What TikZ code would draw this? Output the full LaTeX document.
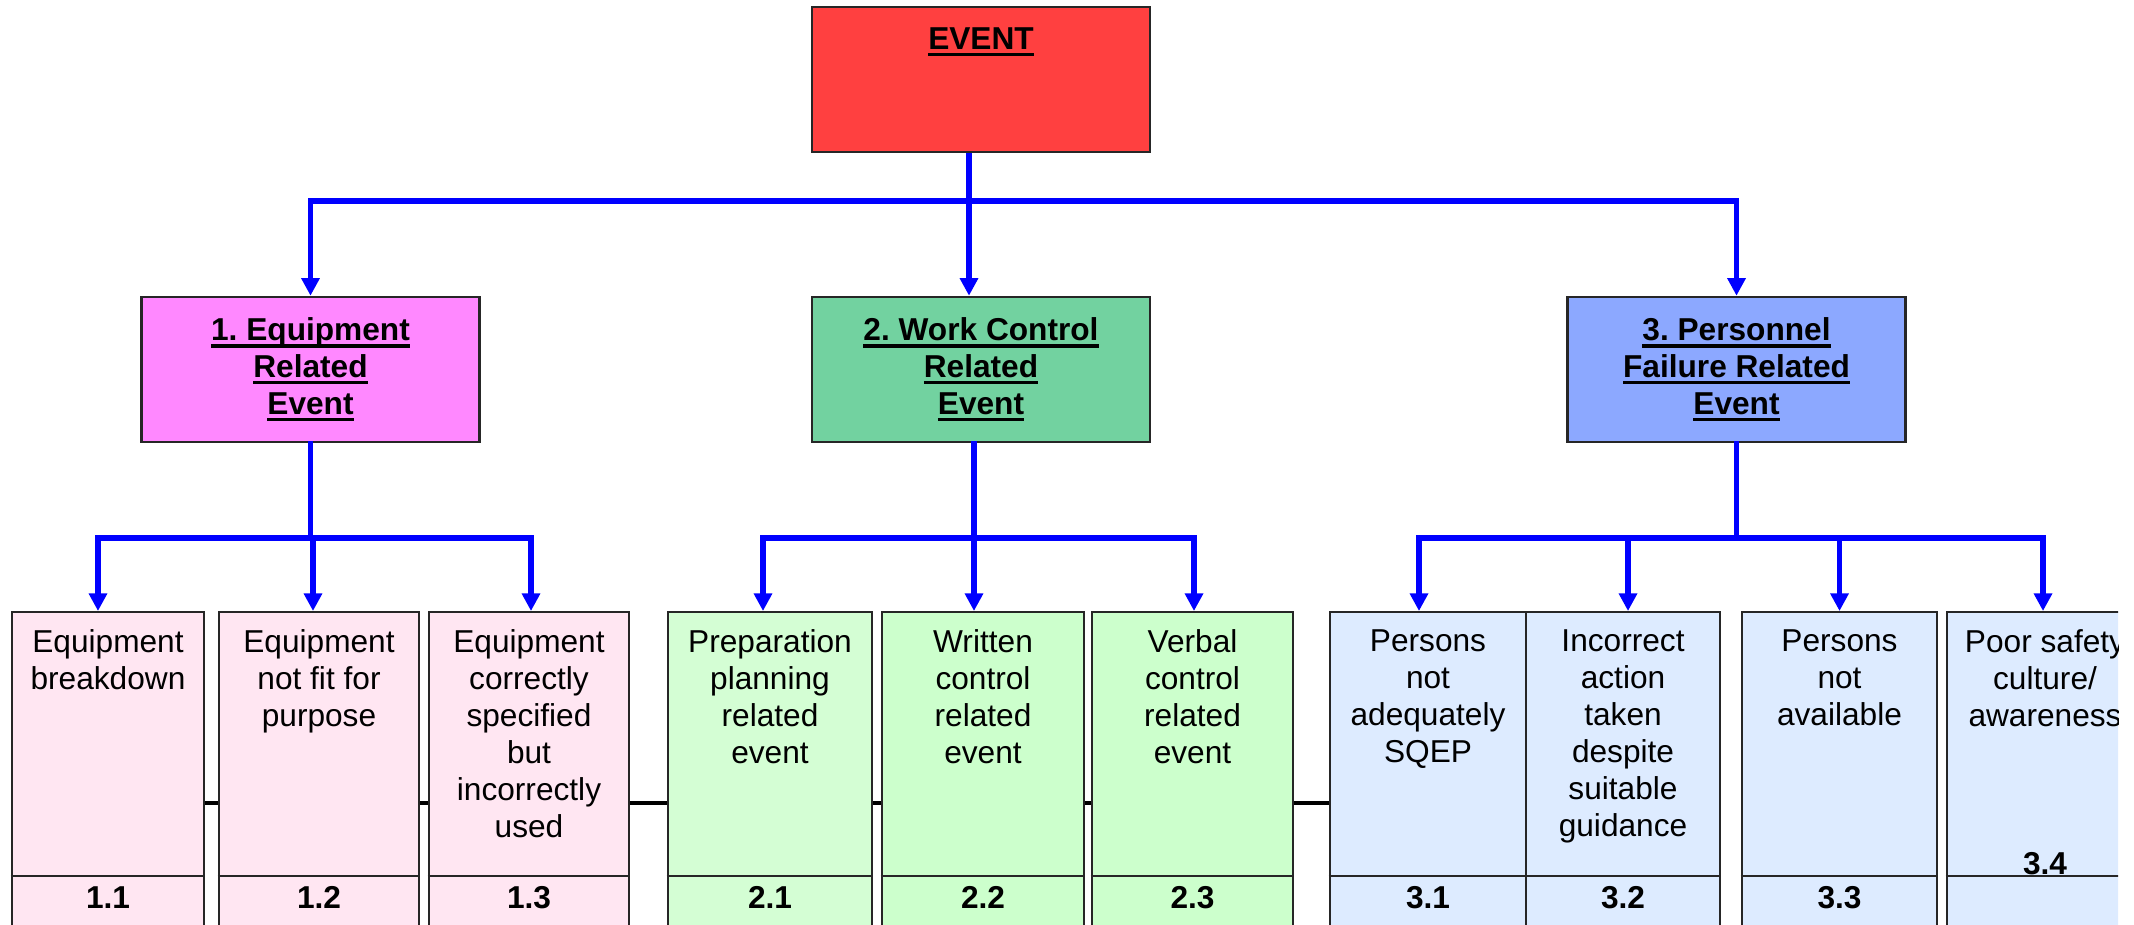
\documentclass[tikz,border=0pt]{standalone}
\usepackage{fontspec}
\setmainfont{Liberation Sans}
\usetikzlibrary{arrows.meta,backgrounds}
\frenchspacing

\definecolor{evred}{RGB}{255,64,64}
\definecolor{eqmag}{RGB}{255,136,255}
\definecolor{wcgreen}{RGB}{114,210,160}
\definecolor{pfblue}{RGB}{140,168,255}
\definecolor{pinkl}{RGB}{255,230,242}
\definecolor{greenl}{RGB}{212,254,212}
\definecolor{greenm}{RGB}{204,255,204}
\definecolor{bluel}{RGB}{221,235,255}

\newcommand{\uln}[1]{\leavevmode\setbox0\hbox{#1}\rlap{\rule[-2.0pt]{\wd0}{0.9pt}}\box0}

\begin{document}
\begin{tikzpicture}[x=0.01cm,y=-0.01cm,
		every node/.style={font=\fontsize{9}{10.5}\selectfont},
		top/.style={draw=black!85,line width=0.7pt,minimum width=3.38cm,minimum height=1.45cm,inner sep=0pt,align=center,font=\fontsize{9}{10.5}\selectfont\bfseries},
		cause/.style={draw=black!85,line width=0.7pt,minimum height=3.4cm,anchor=north,inner sep=0pt},
		txt/.style={anchor=north,align=center,inner sep=0pt},
		num/.style={anchor=base,inner sep=0pt,font=\fontsize{9}{10.5}\selectfont\bfseries},
		flow/.style={blue,line width=1.5pt,-{Triangle[width=5pt,length=5pt]}},
		bus/.style={blue,line width=1.5pt,line cap=rect},
		rail/.style={line width=1.3pt},
		sep/.style={line width=0.6pt,black!85}]
			\useasboundingbox (0,0) rectangle (2134,924);
			\clip (0,0) rectangle (2118,924);
			\coordinate (busA)at(0,201);
			\coordinate (busB)at(0,538);
			\coordinate (rl)at(0,803);
			\coordinate (dv)at(0,876);
			\node[top,fill=evred] (ev)at(981,79.5) {};
			\node[num] (evt)at(981,49) {\uln{EVENT}};
			\node[top,fill=eqmag] (g1)at(310.5,369.5) {\uln{1. Equipment}\\\uln{Related}\\\uln{Event}};
			\node[top,fill=wcgreen] (g2)at(981,369.5) {\uln{2. Work Control}\\\uln{Related}\\\uln{Event}};
			\node[top,fill=pfblue] (g3)at(1736.5,369.5) {\uln{3. Personnel}\\\uln{Failure Related}\\\uln{Event}};
			\node[cause,minimum width=1.92cm,fill=pinkl] (c11)at(108,611) {};
			\node[cause,minimum width=2.0cm,fill=pinkl] (c12)at(319,611) {};
			\node[cause,minimum width=2.0cm,fill=pinkl] (c13)at(529,611) {};
			\node[cause,minimum width=2.04cm,fill=greenl] (c21)at(770,611) {};
			\node[cause,minimum width=2.02cm,fill=greenm] (c22)at(983,611) {};
			\node[cause,minimum width=2.01cm,fill=greenm] (c23)at(1192.5,611) {};
			\node[cause,minimum width=1.96cm,fill=bluel] (c31)at(1428,611) {};
			\node[cause,minimum width=1.94cm,fill=bluel] (c32)at(1623,611) {};
			\node[cause,minimum width=1.95cm,fill=bluel] (c33)at(1839.5,611) {};
			\node[cause,minimum width=1.96cm,fill=bluel] (c34)at(2045,611) {};
			\node[txt] (x11)at(108,629) {Equipment\\breakdown};
			\node[txt] (x12)at(319,629) {Equipment\\not fit for\\purpose};
			\node[txt] (x13)at(529,629) {Equipment\\correctly\\specified\\but\\incorrectly\\used};
			\node[txt] (x21)at(770,629) {Preparation\\planning\\related\\event};
			\node[txt] (x22)at(983,629) {Written\\control\\related\\event};
			\node[txt] (x23)at(1192.5,629) {Verbal\\control\\related\\event};
			\node[txt] (x31)at(1428,629) {Persons\\not\\adequately\\SQEP};
			\node[txt] (x32)at(1623,629) {Incorrect\\action\\taken\\despite\\suitable\\guidance};
			\node[txt] (x33)at(1839.5,629) {Persons\\not\\available};
			\node[txt] (x34)at(2045,629) {Poor safety\\culture/\\awareness};
			\draw[sep] (c11.west|-dv) -- (c11.east|-dv);
			\draw[sep] (c12.west|-dv) -- (c12.east|-dv);
			\draw[sep] (c13.west|-dv) -- (c13.east|-dv);
			\draw[sep] (c21.west|-dv) -- (c21.east|-dv);
			\draw[sep] (c22.west|-dv) -- (c22.east|-dv);
			\draw[sep] (c23.west|-dv) -- (c23.east|-dv);
			\draw[sep] (c31.west|-dv) -- (c31.east|-dv);
			\draw[sep] (c32.west|-dv) -- (c32.east|-dv);
			\draw[sep] (c33.west|-dv) -- (c33.east|-dv);
			\draw[sep] (c34.west|-dv) -- (c34.east|-dv);
			\node[num] (n11)at(108,908) {1.1};
			\node[num] (n12)at(319,908) {1.2};
			\node[num] (n13)at(529,908) {1.3};
			\node[num] (n21)at(770,908) {2.1};
			\node[num] (n22)at(983,908) {2.2};
			\node[num] (n23)at(1192.5,908) {2.3};
			\node[num] (n31)at(1428,908) {3.1};
			\node[num] (n32)at(1623,908) {3.2};
			\node[num] (n33)at(1839.5,908) {3.3};
			\node[num] (n34)at(2045,874) {3.4};
			\begin{scope}[on background layer]
				\draw[rail] (c11.east|-rl) -- (c31.west|-rl);
			\end{scope}
			\draw[flow] ([xshift=-0.12cm]ev.south) -- ([xshift=-0.12cm]g2.north);
			\draw[bus] (g1.north|-busA) -- (g3.north|-busA);
			\draw[flow] (g1.north|-busA) -- (g1.north);
			\draw[flow] (g3.north|-busA) -- (g3.north);
			\draw[bus] (g1.south) -- (g1.south|-busB);
			\draw[bus] ([xshift=-0.07cm]g2.south) -- ([xshift=-0.07cm]g2.south|-busB);
			\draw[bus] (g3.south) -- (g3.south|-busB);
			\draw[bus] ([xshift=-0.1cm]c11.north|-busB) -- ([xshift=0.02cm]c13.north|-busB);
			\draw[bus] ([xshift=-0.07cm]c21.north|-busB) -- ([xshift=0.015cm]c23.north|-busB);
			\draw[bus] ([xshift=-0.09cm]c31.north|-busB) -- ([xshift=-0.02cm]c34.north|-busB);
			\draw[flow] ([xshift=-0.1cm]c11.north|-busB) -- ([xshift=-0.1cm]c11.north);
			\draw[flow] ([xshift=-0.06cm]c12.north|-busB) -- ([xshift=-0.06cm]c12.north);
			\draw[flow] ([xshift=0.02cm]c13.north|-busB) -- ([xshift=0.02cm]c13.north);
			\draw[flow] ([xshift=-0.07cm]c21.north|-busB) -- ([xshift=-0.07cm]c21.north);
			\draw[flow] ([xshift=-0.09cm]c22.north|-busB) -- ([xshift=-0.09cm]c22.north);
			\draw[flow] ([xshift=0.015cm]c23.north|-busB) -- ([xshift=0.015cm]c23.north);
			\draw[flow] ([xshift=-0.09cm]c31.north|-busB) -- ([xshift=-0.09cm]c31.north);
			\draw[flow] ([xshift=0.05cm]c32.north|-busB) -- ([xshift=0.05cm]c32.north);
			\draw[flow] (c33.north|-busB) -- (c33.north);
			\draw[flow] ([xshift=-0.02cm]c34.north|-busB) -- ([xshift=-0.02cm]c34.north);
		\end{tikzpicture}
\end{document}
